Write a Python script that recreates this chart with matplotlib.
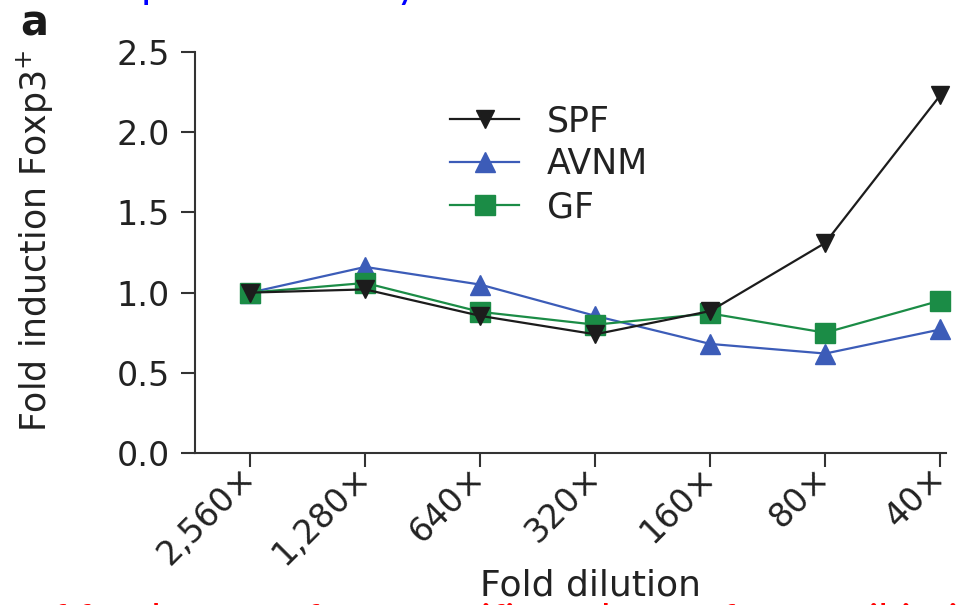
import matplotlib
matplotlib.use("Agg")
import matplotlib.pyplot as plt

# ---- data ----
dilutions = ["2,560×", "1,280×", "640×", "320×", "160×", "80×", "40×"]
spf = [1.00, 1.02, 0.855, 0.74, 0.885, 1.31, 2.23]
avnm = [1.00, 1.16, 1.05, 0.855, 0.68, 0.62, 0.77]
gf = [1.00, 1.06, 0.88, 0.80, 0.87, 0.75, 0.95]
yticks = [0.0, 0.5, 1.0, 1.5, 2.0, 2.5]
ytick_labels = ["0.0", "0.5", "1.0", "1.5", "2.0", "2.5"]

W, H = 956, 605
plt.rcParams["font.family"] = ["DejaVu Sans"]
fig = plt.figure(figsize=(W / 100, H / 100), dpi=100)
ax = fig.add_axes([195 / W, (H - 453) / H, (946 - 195) / W, (453 - 52) / H])

x = list(range(len(dilutions)))
black = "#1c1c1c"
blue = "#3c5cb8"
green = "#1b8c46"

l_avnm, = ax.plot(x, avnm, color=blue, lw=1.6, marker="^", ms=14,
                  mec=blue, mfc=blue, zorder=3, clip_on=False)
l_gf, = ax.plot(x, gf, color=green, lw=1.6, marker="s", ms=15,
                mec=green, mfc=green, zorder=4, clip_on=False)
l_spf, = ax.plot(x, spf, color=black, lw=1.6, marker="v", ms=13,
                 mec=black, mfc=black, zorder=5, clip_on=False)

ax.set_xlim(-0.48, 6.05)
ax.set_ylim(0, 2.5)
ax.set_xticks(x)
ax.set_xticklabels(dilutions, rotation=45, ha="right", va="center",
                   rotation_mode="anchor")
ax.set_yticks(yticks)
ax.set_yticklabels(ytick_labels)

for s in ["top", "right"]:
    ax.spines[s].set_visible(False)
for s in ["left", "bottom"]:
    ax.spines[s].set_linewidth(1.5)
    ax.spines[s].set_color("#333333")

ax.tick_params(axis="both", which="major", length=10, width=1.5,
               color="#333333", labelsize=24, labelcolor="#222222")
ax.tick_params(axis="x", pad=4)
ax.tick_params(axis="y", pad=8)

ax.set_ylabel("Fold induction Foxp3$^{+}$", fontsize=25, color="#222222")
ax.yaxis.set_label_coords((56 - 195) / 751, 0.53)
ax.set_xlabel("Fold dilution", fontsize=26, color="#222222")
ax.xaxis.set_label_coords((590 - 195) / 751, (453 - 569) / 401)

leg = ax.legend([l_spf, l_avnm, l_gf], ["SPF", "AVNM", "GF"],
                loc="upper left", bbox_to_anchor=(450 / W, 1 - 104 / H),
                bbox_transform=fig.transFigure, frameon=False,
                fontsize=25, handlelength=2.0, handletextpad=0.8,
                labelspacing=0.26, borderpad=0, borderaxespad=0,
                numpoints=1)
for t in leg.get_texts():
    t.set_color("#222222")

fig.text(20 / W, 1 - 35 / H, "a", fontsize=30, fontweight="bold",
         color="#1a1a1a", va="baseline")

# partially visible caption texts (cut by the image edges)
renderer = fig.canvas.get_renderer()


def place(s, prefix, target_px, y_fig, **kw):
    t = fig.text(0, y_fig, s, **kw)
    p = fig.text(0, y_fig, prefix, **kw)
    w = p.get_window_extent(renderer).width
    p.remove()
    t.set_x((target_px - w) / W)
    return t


place("Foxp3 induction by fecal extracts", "Fox", 141, 1 + 2 / H,
      fontsize=29, color="#0000ff", va="baseline", family="Lato")
place("Effect of fecal extract from specific pathogen free, antibiotic treated and germ free mice",
      "Effec", 5, -28 / H, fontsize=29, color="#ff0000", va="baseline",
      family="Lato")

fig.savefig("out.png", dpi=100)
